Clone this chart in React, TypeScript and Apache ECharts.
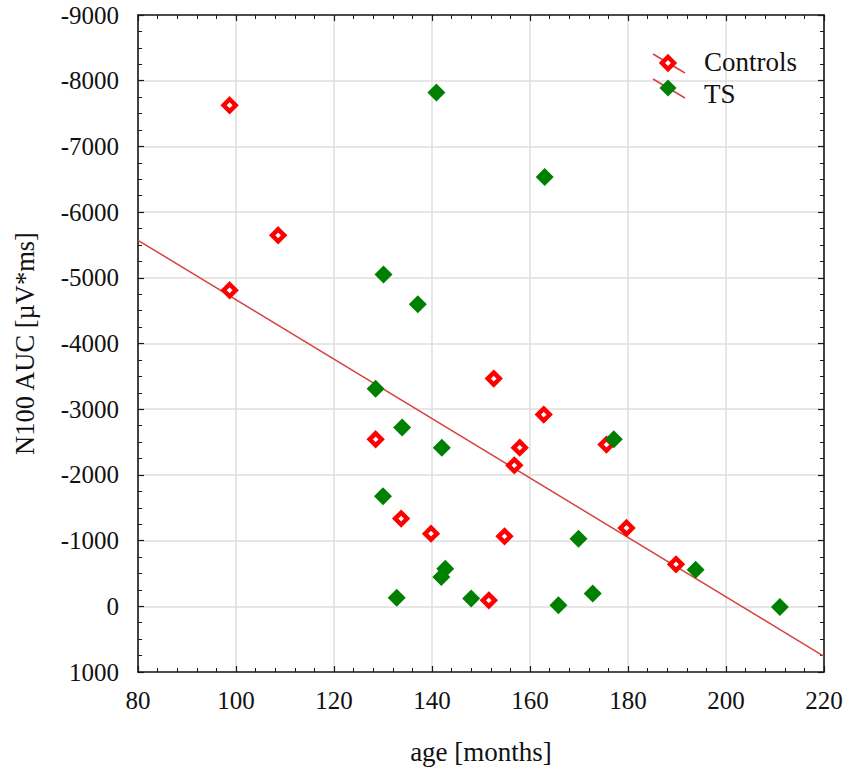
import React, { useEffect, useRef } from "react";
import * as echarts from "echarts";

// ---- data ----
const controlsAge = [98.7, 108.6, 98.7, 128.5, 133.7, 139.8, 152.6, 154.8, 151.6, 156.8, 157.9, 162.8, 175.6, 179.7, 189.8];
const controlsAuc = [-7626, -5647, -4810, -2542, -1335, -1106, -3466, -1065, -91, -2146, -2415, -2918, -2461, -1192, -639];

const tsAge = [140.9, 163.0, 130.1, 137.1, 128.5, 133.9, 142.0, 130.0, 142.7, 141.9, 132.8, 148.0, 169.9, 165.8, 172.8, 177.1, 193.8, 211.0];
const tsAuc = [-7819, -6535, -5049, -4597, -3313, -2720, -2415, -1674, -573, -446, -132, -117, -1030, -15, -193, -2542, -558, 10];

// fitted regression line (end points)
const fitAge = [80, 220];
const fitAuc = [-5571, 761];

const xTicks = { min: 80, max: 220, step: 20 };
const yTicks = { min: -9000, max: 1000, step: 1000 };

const seriesNames = ["Controls", "TS"];
const xTitle = "age [months]";
const yTitle = "N100 AUC [µV*ms]";

const FONT = "'Liberation Serif', 'Times New Roman', serif";
const RED = "#ff0000";
const GREEN = "#008000";
const LINE_RED = "#d94040";

export default function App() {
  const ref = useRef<HTMLDivElement>(null);

  useEffect(() => {
    document.body.style.margin = "0";
    if (!ref.current) return;
    const chart = echarts.init(ref.current, undefined, { renderer: "svg" });

    const controls = controlsAge.map((a, i) => [a, controlsAuc[i]]);
    const ts = tsAge.map((a, i) => [a, tsAuc[i]]);
    const fit = fitAge.map((a, i) => [a, fitAuc[i]]);

    const axisLine = { show: true, onZero: false, lineStyle: { color: "#1a1a1a", width: 1.6 } };
    const tick = { show: true, inside: true, length: 6, lineStyle: { color: "#1a1a1a", width: 1.2 } };
    const minor = (n: number) => ({ show: true, splitNumber: n, length: 4, lineStyle: { color: "#1a1a1a", width: 1 } });
    const label = { color: "#111", fontFamily: FONT, fontSize: 25 };

    chart.setOption({
      animation: false,
      backgroundColor: "#ffffff",
      grid: { left: 138, top: 15, width: 686, height: 657, containLabel: false },
      xAxis: [
        {
          type: "value",
          position: "bottom",
          min: xTicks.min,
          max: xTicks.max,
          interval: xTicks.step,
          axisLine,
          axisTick: tick,
          minorTick: minor(5),
          axisLabel: { ...label, margin: 16, formatter: (v: number) => String(v) },
          splitLine: { show: true, lineStyle: { color: "#dedede", width: 1.5 } },
          name: xTitle,
          nameLocation: "middle",
          nameGap: 66,
          nameTextStyle: { color: "#111", fontFamily: FONT, fontSize: 27 },
        },
        {
          type: "value",
          position: "top",
          min: xTicks.min,
          max: xTicks.max,
          interval: xTicks.step,
          axisLine,
          axisTick: tick,
          minorTick: minor(5),
          axisLabel: { show: false },
          splitLine: { show: false },
        },
      ],
      yAxis: [
        {
          type: "value",
          position: "left",
          inverse: true,
          min: yTicks.min,
          max: yTicks.max,
          interval: yTicks.step,
          axisLine,
          axisTick: tick,
          minorTick: minor(4),
          axisLabel: { ...label, margin: 19, formatter: (v: number) => String(v) },
          splitLine: { show: true, lineStyle: { color: "#dedede", width: 1.5 } },
          name: yTitle,
          nameLocation: "middle",
          nameGap: 100,
          nameRotate: 90,
          nameTextStyle: { color: "#111", fontFamily: FONT, fontSize: 26.5 },
        },
        {
          type: "value",
          position: "right",
          inverse: true,
          min: yTicks.min,
          max: yTicks.max,
          interval: yTicks.step,
          axisLine,
          axisTick: tick,
          minorTick: minor(4),
          axisLabel: { show: false },
          splitLine: { show: false },
        },
      ],
      series: [
        {
          type: "line",
          name: "fit",
          data: fit,
          xAxisIndex: 0,
          yAxisIndex: 0,
          showSymbol: false,
          symbol: "none",
          lineStyle: { color: LINE_RED, width: 1.5 },
          z: 1,
          silent: true,
        },
        {
          type: "scatter",
          name: seriesNames[0],
          data: controls,
          xAxisIndex: 0,
          yAxisIndex: 0,
          symbol: "diamond",
          symbolSize: 12,
          itemStyle: { color: "#ffffff", borderColor: RED, borderWidth: 4.5, opacity: 1 },
          z: 3,
        },
        {
          type: "scatter",
          name: seriesNames[1],
          data: ts,
          xAxisIndex: 0,
          yAxisIndex: 0,
          symbol: "diamond",
          symbolSize: 18,
          itemStyle: { color: GREEN, opacity: 1 },
          z: 4,
        },
      ],
      graphic: [
        { type: "line", shape: { x1: 653, y1: 54, x2: 685, y2: 73 }, style: { stroke: LINE_RED, lineWidth: 1.5 }, z: 10 },
        {
          type: "polygon",
          shape: { points: [[668, 57], [674, 63], [668, 69], [662, 63]] },
          style: { fill: "#ffffff", stroke: RED, lineWidth: 4.5 },
          z: 11,
        },
        { type: "line", shape: { x1: 653, y1: 79, x2: 685, y2: 98 }, style: { stroke: LINE_RED, lineWidth: 1.5 }, z: 10 },
        {
          type: "polygon",
          shape: { points: [[668, 79.5], [676.5, 88], [668, 96.5], [659.5, 88]] },
          style: { fill: GREEN },
          z: 11,
        },
        {
          type: "text",
          x: 704,
          y: 62,
          style: { text: seriesNames[0], fill: "#111", font: `27px ${FONT}`, verticalAlign: "middle", align: "left" },
          z: 12,
        },
        {
          type: "text",
          x: 704,
          y: 94,
          style: { text: seriesNames[1], fill: "#111", font: `27px ${FONT}`, verticalAlign: "middle", align: "left" },
          z: 12,
        },
      ],
    });

    return () => chart.dispose();
  }, []);

  return <div ref={ref} style={{ position: "absolute", left: 0, top: 0, width: 851, height: 773 }} />;
}
